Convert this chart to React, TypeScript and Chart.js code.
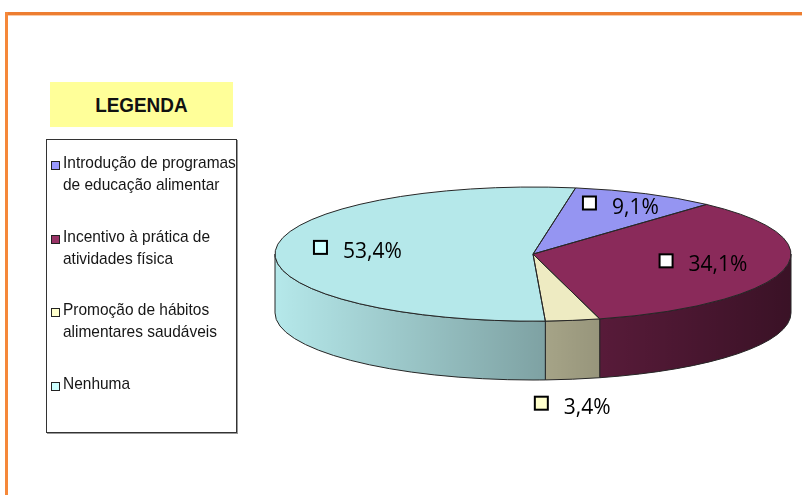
import React, { useEffect, useRef } from 'react';
import { Chart, registerables } from 'chart.js';

Chart.register(...registerables);

// ---- data ----
const categories = [
  'Introdução de programas de educação alimentar',
  'Incentivo à prática de atividades física',
  'Promoção de hábitos alimentares saudáveis',
  'Nenhuma',
];
const legendLines = [
  ['Introdução de programas', 'de educação alimentar'],
  ['Incentivo à prática de', 'atividades física'],
  ['Promoção de hábitos', 'alimentares saudáveis'],
  ['Nenhuma'],
];
const values = [9.1, 34.1, 3.4, 53.4];
const sliceColors = ['#9595F2', '#8A2A5A', '#EEEBC2', '#B5E8EA'];
const keyColors = ['#9999FF', '#993366', '#FFFFCC', '#CCFFFF'];
const labelKeyColors = ['#FFFFFF', '#FFFFFF', '#FFFFCC', '#CCFFFF'];
const legendTitle = 'LEGENDA';

const TILT = 0.26;
const TAU = Math.PI * 2;

function geom(chart: any) {
  const a = chart.chartArea;
  const rx = (a.right - a.left) / 2;
  const ry = rx * TILT;
  const cx = (a.left + a.right) / 2;
  const cy = a.top + ry;
  const d = a.bottom - a.top - 2 * ry;
  return { cx, cy, rx, ry, d };
}

const fmt = (v: number) => v.toFixed(1).replace('.', ',') + '%';

const pie3d = {
  id: 'pie3d',
  beforeDatasetsDraw(chart: any) {
    const ctx = chart.ctx;
    const meta = chart.getDatasetMeta(0);
    const g = geom(chart);
    ctx.save();
    meta.data.forEach((arc: any, i: number) => {
      const s = arc.startAngle;
      const e = arc.endAngle;
      for (let k = -1; k <= 1; k++) {
        const lo = Math.max(s, TAU * k);
        const hi = Math.min(e, TAU * k + Math.PI);
        if (hi <= lo) continue;
        ctx.beginPath();
        ctx.ellipse(g.cx, g.cy, g.rx, g.ry, 0, lo, hi);
        ctx.lineTo(g.cx + g.rx * Math.cos(hi), g.cy + g.d + g.ry * Math.sin(hi));
        ctx.ellipse(g.cx, g.cy + g.d, g.rx, g.ry, 0, hi, lo, true);
        ctx.closePath();
        ctx.fillStyle = sliceColors[i];
        ctx.fill();
        const grad = ctx.createLinearGradient(g.cx - g.rx, 0, g.cx + g.rx, 0);
        grad.addColorStop(0, 'rgba(0,0,0,0)');
        grad.addColorStop(1, 'rgba(0,0,0,0.58)');
        ctx.fillStyle = grad;
        ctx.fill();
        ctx.lineWidth = 1;
        ctx.strokeStyle = '#262626';
        ctx.stroke();
      }
    });
    ctx.restore();
    const arc0 = meta.data[0];
    ctx.save();
    ctx.translate(g.cx, g.cy);
    ctx.scale(g.rx / arc0.outerRadius, g.ry / arc0.outerRadius);
    ctx.translate(-arc0.x, -arc0.y);
  },
  afterDatasetsDraw(chart: any) {
    const ctx = chart.ctx;
    ctx.restore();
    const meta = chart.getDatasetMeta(0);
    const g = geom(chart);
    const total = values.reduce((p, c) => p + c, 0);
    ctx.save();
    ctx.lineWidth = 1;
    ctx.strokeStyle = '#262626';
    meta.data.forEach((arc: any) => {
      ctx.beginPath();
      ctx.moveTo(g.cx, g.cy);
      ctx.ellipse(g.cx, g.cy, g.rx, g.ry, 0, arc.startAngle, arc.endAngle);
      ctx.closePath();
      ctx.stroke();
    });
    // labels
    ctx.font = '21px "Open Sans"';
    ctx.textBaseline = 'alphabetic';
    meta.data.forEach((arc: any, i: number) => {
      const frac = values[i] / total;
      const mid = (arc.startAngle + arc.endAngle) / 2;
      let px: number;
      let py: number;
      if (frac < 0.05) {
        px = g.cx + g.rx * Math.cos(mid);
        py = g.cy + g.ry * Math.sin(mid) + g.d + 28;
      } else {
        const f = frac < 0.15 ? 0.78 : 0.68;
        px = g.cx + f * g.rx * Math.cos(mid);
        py = g.cy + f * g.ry * Math.sin(mid);
      }
      const txt = fmt(values[i]);
      const tw = ctx.measureText(txt).width;
      const box = 13;
      const gap = 16;
      const w = box + gap + tw;
      const x0 = px - w / 2;
      ctx.fillStyle = labelKeyColors[i];
      ctx.fillRect(x0, py - 4 - box / 2, box, box);
      ctx.lineWidth = 2;
      ctx.strokeStyle = '#000';
      ctx.strokeRect(x0, py - 4 - box / 2, box, box);
      ctx.fillStyle = '#000';
      ctx.fillText(txt, x0 + box + gap, py + 6.5);
    });
    ctx.restore();
  },
};

export default function App() {
  const ref = useRef<HTMLCanvasElement | null>(null);
  useEffect(() => {
    if (!ref.current) return;
    const chart = new Chart(ref.current, {
      type: 'pie',
      data: {
        labels: categories,
        datasets: [
          {
            data: values,
            backgroundColor: sliceColors,
            borderWidth: 0,
            clip: false as any,
          },
        ],
      },
      options: {
        responsive: false,
        animation: false,
        rotation: 9.5,
        layout: { padding: { left: 275, right: 11, top: 187, bottom: 115 } },
        plugins: { legend: { display: false }, tooltip: { enabled: false } },
        events: [],
      },
      plugins: [pie3d],
    });
    return () => chart.destroy();
  }, []);

  const legendFont = '"Liberation Sans", Arial, sans-serif';

  return (
    <div style={{ position: 'absolute', left: 0, top: 0, width: 802, height: 495, background: '#fff', overflow: 'hidden' }}>
      <canvas ref={ref} width={802} height={495} style={{ position: 'absolute', left: 0, top: 0, width: 802, height: 495 }} />
      <div style={{ position: 'absolute', left: 5, top: 12, width: 797, height: 3, background: '#ED7D31' }} />
      <div style={{ position: 'absolute', left: 8, top: 15, width: 794, height: 1, background: '#F9CBA8' }} />
      <div style={{ position: 'absolute', left: 5, top: 12, width: 3, height: 483, background: '#F5883A' }} />
      <div
        style={{
          position: 'absolute', left: 50, top: 82, width: 183, height: 45, background: '#FFFF99',
          display: 'flex', alignItems: 'center', justifyContent: 'center',
          fontFamily: legendFont, fontWeight: 'bold', fontSize: 21, color: '#111',
        }}
      >
        <span style={{ display: 'inline-block', transform: 'scaleX(0.9)' }}>{legendTitle}</span>
      </div>
      <div
        style={{
          position: 'absolute', left: 46, top: 139, width: 189, height: 292, border: '1px solid #333',
          boxShadow: '1px 1px 0 #999', background: '#fff', boxSizing: 'content-box',
          fontFamily: legendFont, fontSize: 17, color: '#161616',
        }}
      >
        {legendLines.map((lines, i) => (
          <div key={i} style={{ position: 'absolute', left: 3, top: 12 + i * 73.5, lineHeight: '22px', whiteSpace: 'nowrap' }}>
            {lines.map((ln, j) => (
              <div key={j} style={{ position: 'relative', paddingLeft: 13 }}>
                {j === 0 && (
                  <span
                    style={{
                      position: 'absolute', left: 1, top: 9, width: 7, height: 7,
                      background: keyColors[i], border: '1px solid #222',
                    }}
                  />
                )}
                <span style={{ display: 'inline-block', transform: 'scaleX(0.91)', transformOrigin: 'left center' }}>{ln}</span>
              </div>
            ))}
          </div>
        ))}
      </div>
    </div>
  );
}
